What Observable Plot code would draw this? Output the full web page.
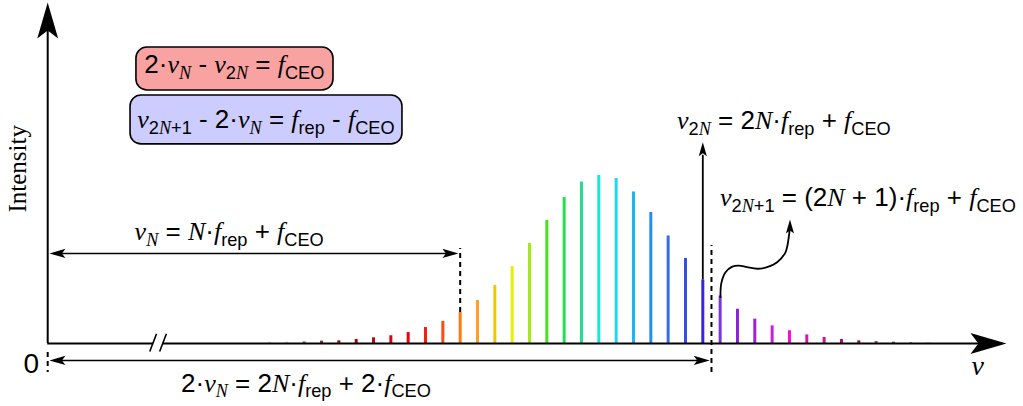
<!DOCTYPE html>
<html><head><meta charset="utf-8">
<script src="https://cdn.jsdelivr.net/npm/d3@7"></script>
<script src="https://cdn.jsdelivr.net/npm/@observablehq/plot@0.6"></script>
<style>html,body{margin:0;padding:0;background:#fff;} svg{display:block}</style>
</head><body><div id="chart"></div>
<script>
// ---- data: comb modes (offset from N), intensity (max = 100), colour of each tooth
const modes = [-11,-10,-9,-8,-7,-6,-5,-4,-3,-2,-1,0,1,2,3,4,5,6,7,8,9,10,11,12,13,14,15,16,17,18,19,20,21,22,23,24,25,26,27];
const intensity = [0.8,0.8,1.0,1.4,1.6,2.4,3.4,4.6,6.5,9.5,13.1,18.5,25.6,34.5,45.8,59.5,73.2,86.9,96.1,100,98.2,90.2,78.0,64.0,50.6,37.8,28.3,20.4,14.5,10.5,7.6,5.1,3.6,2.4,1.6,1.2,0.8,0.6,0.6];
const colors = ["#e2dada","#d6c6c6","#a66060","#942828","#a00808","#b0000c","#b8081c","#dc0010","#f00010","#ff1a10","#ff4a10","#ff7a10","#ffa020","#f5c400","#e6f000","#a6e81a","#48e020","#22e050","#20e090","#12e8e0","#20d6f8","#20b4f4","#2090f0","#3070e4","#3450e0","#3a26d8","#7a34e0","#8a20e0","#a020d8","#c820e0","#ec10d8","#e010b0","#c81890","#a81070","#981050","#a84070","#984060","#b89898","#dcd4d4"];

// ---- annotation geometry (in the chart's own units: mode offset, intensity)
const origin = -23.8;
const xAxisSegments = [{x1: origin, x2: -17.7}, {x1: -17.15, x2: 30}];
const breakMarks = [{x1: -17.91, y1: -4.8, x2: -17.52, y2: 5.8}, {x1: -17.34, y1: -4.8, x2: -16.95, y2: 5.8}];
const legendBoxes = [
  {x1: -18.68, x2: -7.31, y1: 150.6, y2: 176.2, fill: "#f8a2a2"},
  {x1: -19.02, x2: -3.33, y1: 118.5, y2: 147.6, fill: "#ccccfe"}
];
const hArrows = [{x1: -23.2, x2: -0.6, y: 53.6}, {x1: -23.2, x2: 13.9, y: -10.1}];
const dashed = [{x: 0, y1: 18.5, y2: 56.5}, {x: 14.5, y1: -17.3, y2: 58.3}, {x: origin, y1: -5.4, y2: -17.3}];
const bigHeads = [{x: origin, y: 203, rot: 0}, {x: 31.52, y: 0, rot: 90}];
const smallHeads = [{x: -23.7, y: 53.6, rot: -90}, {x: -0.1, y: 53.6, rot: 90}, {x: -23.7, y: -10.1, rot: -90}, {x: 14.4, y: -10.1, rot: 90}];
const tinyHeads = [{x: 14, y: 119.8, rot: 0}, {x: 19.03, y: 73.8, rot: 0}];
const wave = [[15.02,27.6],[15.06,35.5],[15.31,42.4],[15.70,45.8],[16.08,46.4],[16.56,45.4],[17.14,44.5],[17.71,45.4],[18.29,48.4],[18.77,54.3],[18.96,63.3],[19.02,68.5]];

// rich labels: [text, style]; style: s = sans, i = serif italic, _ prefix = subscript
const labels = [
  {x: -13.0, y: 160.7, anchor: "middle", size: 26, segs: [["2·","s"],["ν","i"],["N","_i"],[" - ","s"],["ν","i"],["2","_s"],["N","_i"],[" = ","s"],["f","i"],["CEO","_s"]]},
  {x: -11.18, y: 128.0, anchor: "middle", size: 26, segs: [["ν","i"],["2","_s"],["N","_i"],["+1","_s"],[" - 2·","s"],["ν","i"],["N","_i"],[" = ","s"],["f","i"],["rep","_s"],[" - ","s"],["f","i"],["CEO","_s"]]},
  {x: 12.54, y: 127.4, anchor: "start", size: 26, segs: [["ν","i"],["2","_s"],["N","_i"],[" = 2","s"],["N","i"],["·","s"],["f","i"],["rep","_s"],[" + ","s"],["f","i"],["CEO","_s"]]},
  {x: 15.02, y: 81.5, anchor: "start", size: 26, segs: [["ν","i"],["2","_s"],["N","_i"],["+1","_s"],[" = (2","s"],["N","i"],[" + 1)·","s"],["f","i"],["rep","_s"],[" + ","s"],["f","i"],["CEO","_s"]]},
  {x: -13.3, y: 61.3, anchor: "middle", size: 26, segs: [["ν","i"],["N","_i"],[" = ","s"],["N","i"],["·","s"],["f","i"],["rep","_s"],[" + ","s"],["f","i"],["CEO","_s"]]},
  {x: -8.87, y: -29, anchor: "middle", size: 26, segs: [["2·","s"],["ν","i"],["N","_i"],[" = 2","s"],["N","i"],["·","s"],["f","i"],["rep","_s"],[" + 2·","s"],["f","i"],["CEO","_s"]]}
];

const bars = modes.map((k, i) => ({k, v: intensity[i], c: colors[i]}));
const SANS = "'Liberation Sans', Arial, sans-serif";
const SERIF = "'Liberation Serif', 'Times New Roman', serif";

const stealth = {draw(ctx, size) {
  const L = Math.sqrt(size / Math.PI), w = 0.29 * L;
  ctx.moveTo(0, 0); ctx.lineTo(w, L); ctx.lineTo(0, 0.78 * L); ctx.lineTo(-w, L); ctx.closePath();
}};

const plot = Plot.plot({
  width: 1023, height: 406,
  marginTop: 0, marginRight: 0, marginBottom: 0, marginLeft: 0,
  x: {domain: [-23.8, 31.5], range: [47.2, 1005.6], axis: null},
  y: {domain: [0, 100], range: [343, 175], axis: null},
  color: {type: "identity"},
  style: {background: "white", overflow: "visible"},
  marks: [
    Plot.rect(legendBoxes, {x1: "x1", x2: "x2", y1: "y1", y2: "y2", fill: "fill", stroke: "black", strokeWidth: 1.6, rx: 11}),
    Plot.ruleX(bars, {x: "k", y1: () => 0, y2: "v", stroke: "c", strokeWidth: 3}),
    Plot.ruleY(xAxisSegments, {y: () => 0, x1: "x1", x2: "x2", stroke: "black", strokeWidth: 2}),
    Plot.link(breakMarks, {x1: "x1", y1: "y1", x2: "x2", y2: "y2", stroke: "black", strokeWidth: 1.6}),
    Plot.ruleX([origin], {y1: 0, y2: 188, stroke: "black", strokeWidth: 2}),
    Plot.ruleY(hArrows, {y: "y", x1: "x1", x2: "x2", stroke: "black", strokeWidth: 1.6}),
    Plot.ruleX(dashed, {x: "x", y1: "y1", y2: "y2", stroke: "black", strokeWidth: 2, strokeDasharray: "5,4"}),
    Plot.ruleX([14], {y1: 37.8, y2: 112, stroke: "black", strokeWidth: 1.8}),
    Plot.line(wave, {x: d => d[0], y: d => d[1], curve: "catmull-rom", stroke: "black", strokeWidth: 1.8}),
    Plot.dot(bigHeads, {x: "x", y: "y", rotate: "rot", r: 36, symbol: stealth, fill: "black", stroke: "none"}),
    Plot.dot(smallHeads, {x: "x", y: "y", rotate: "rot", r: 16, symbol: stealth, fill: "black", stroke: "none"}),
    Plot.dot(tinyHeads, {x: "x", y: "y", rotate: "rot", r: 14, symbol: stealth, fill: "black", stroke: "none"}),
    Plot.text(["Intensity"], {x: -25.5, y: 104, text: d => d, rotate: -90, fontSize: 25, fontFamily: SERIF, fill: "black"}),
    Plot.text(["ν"], {x: 29.86, y: -13.7, text: d => d, fontSize: 28, fontFamily: SERIF, fontStyle: "italic", fill: "black"}),
    Plot.text(["0"], {x: -24.75, y: -12.4, text: d => d, fontSize: 28, fontFamily: SANS, fill: "black"})
  ]
});

// rich (subscripted) labels drawn through the plot's own scales
const sx = plot.scale("x"), sy = plot.scale("y");
const svg = d3.select(plot);
for (const lab of labels) {
  const FS = lab.size, SUB = 0.7, SHIFT = 0.22 * FS;
  const t = svg.append("text")
    .attr("x", sx.apply(lab.x)).attr("y", sy.apply(lab.y))
    .attr("text-anchor", lab.anchor)
    .style("font-size", FS + "px")
    .attr("fill", "black").style("white-space", "pre");
  let cur = 0;
  for (const [str, st] of lab.segs) {
    const sub = st.startsWith("_");
    const kind = sub ? st.slice(1) : st;
    const off = sub ? SHIFT : 0;
    const ts = t.append("tspan").text(str);
    if (off !== cur) ts.attr("dy", off - cur);
    cur = off;
    ts.style("font-size", (sub ? FS * SUB : FS) + "px")
      .style("font-family", kind === "i" ? SERIF : SANS)
      .style("font-style", kind === "i" ? "italic" : "normal");
  }
}

document.getElementById("chart").append(plot);
</script>
</body></html>
